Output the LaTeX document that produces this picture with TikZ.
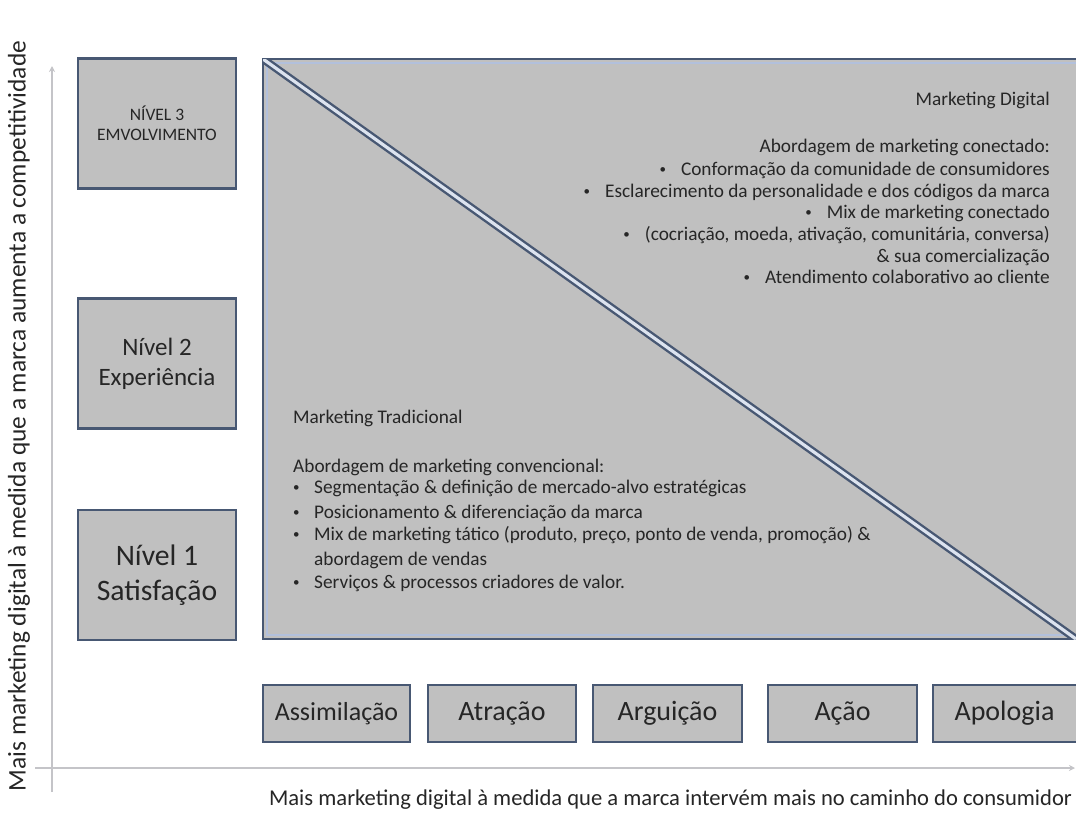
\documentclass[tikz,border=0pt]{standalone}
\usepackage{fontspec}
\setmainfont{Carlito}
\usetikzlibrary{arrows.meta}
\definecolor{boxfill}{RGB}{192,192,192}
\definecolor{boxline}{RGB}{72,88,115}
\definecolor{glowc}{RGB}{178,192,220}
\definecolor{axisc}{RGB}{196,196,200}
\definecolor{txt}{RGB}{38,38,38}
\newcommand{\sbul}{\raisebox{1.2pt}{\fontsize{13}{13}\selectfont •}}
\begin{document}
\begin{tikzpicture}[x=1pt,y=-1pt,
  box/.style={draw=boxline, line width=2.6pt, fill=boxfill, inner sep=0pt, align=center, text=txt},
  lvl/.style={box, minimum width=158pt, minimum height=130pt},
  stage/.style={box, minimum height=57pt, font=\fontsize{28}{34}\selectfont},
  body/.style={inner sep=0pt, text=txt, font=\fontsize{19.3}{23}\selectfont},
  axis/.style={draw=axisc, line width=2pt, -{Stealth[length=6pt,width=6pt]}},
  axlabel/.style={inner sep=0pt, text=txt}
]
\useasboundingbox (0,0) rectangle (1076,823);
\fill[white] (0,0) rectangle (1076,823);

% axes
\coordinate (ybot) at (52,792);
\coordinate (ytop) at (52,66);
\coordinate (xleft) at (35,768);
\coordinate (xright) at (1075,768);
\draw[axis] (ybot) -- (ytop);
\draw[axis] (xleft) -- (xright);

% main panel
\coordinate (pnw) at (263,59);
\coordinate (psw) at (263,639);
\coordinate (pne) at (1076,59);
\coordinate (pse) at (1076,639);
\fill[boxfill] (pnw) rectangle (pse);
\draw[glowc, line width=1.6pt] (1076,63) -- (267,63) -- (267,635) -- (1076,635);
\draw[boxline, line width=2.6pt] (pne) -- (pnw) -- (psw) -- (pse);
\begin{scope}
  \clip (pnw) rectangle (pse);
  \draw[boxline, line width=8pt] (pnw) -- (pse);
  \draw[white!55!glowc, line width=3.2pt] (pnw) -- (pse);
\end{scope}

% level boxes
\node[lvl, font=\fontsize{17.5}{20}\selectfont] (n3) at (157,123.5) {NÍVEL 3\\EMVOLVIMENTO};
\node[lvl, font=\fontsize{25}{30}\selectfont] (n2) at (157,363.5) {Nível 2\\Experiência};
\node[lvl, font=\fontsize{29.7}{35}\selectfont] (n1) at (157,575) {Nível 1\\Satisfação};

% stage boxes
\node[stage, minimum width=147pt, font=\fontsize{26}{30}\selectfont] (s1) at (336.5,713.5) {Assimilação};
\node[stage, minimum width=148pt] (s2) at (502,713.5) {Atração};
\node[stage, minimum width=149pt] (s3) at (667.5,713.5) {Arguição};
\node[stage, minimum width=149pt] (s4) at (842.5,713.5) {Ação};
\node[stage, draw=none, outer sep=0pt, minimum width=143pt] (s5) at (1004.5,713.5) {Apologia};
\draw[boxline, line width=2.6pt] (s5.north east) -- (s5.north west) -- (s5.south west) -- (s5.south east);

% digital text
\node[body, anchor=base east] (d1) at (1050,105) {Marketing Digital};
\node[body, anchor=base east] (d2) at (1050,152) {Abordagem de marketing conectado:};
\node[body, anchor=base east] (d3) at (1050,175) {\sbul\hspace{15pt}Conformação da comunidade de consumidores};
\node[body, anchor=base east] (d4) at (1050,197) {\sbul\hspace{15pt}Esclarecimento da personalidade e dos códigos da marca};
\node[body, anchor=base east] (d5) at (1050,218) {\sbul\hspace{15pt}Mix de marketing conectado};
\node[body, anchor=base east] (d6) at (1050,240) {\sbul\hspace{15pt}(cocriação, moeda, ativação, comunitária, conversa)};
\node[body, anchor=base east] (d7) at (1050,262) {\& sua comercialização};
\node[body, anchor=base east] (d8) at (1050,283) {\sbul\hspace{15pt}Atendimento colaborativo ao cliente};

% traditional text
\node[body, anchor=base west] (t1) at (293,423) {Marketing Tradicional};
\node[body, anchor=base west] (t2) at (293,472) {Abordagem de marketing convencional:};
\node[body, anchor=base west] (t3) at (293,493) {\makebox[21pt][l]{\sbul}Segmentação \& definição de mercado-alvo estratégicas};
\node[body, anchor=base west] (t4) at (293,518) {\makebox[21pt][l]{\sbul}Posicionamento \& diferenciação da marca};
\node[body, anchor=base west] (t5) at (293,540) {\makebox[21pt][l]{\sbul}Mix de marketing tático (produto, preço, ponto de venda, promoção) \&};
\node[body, anchor=base west] (t6) at (314,565) {abordagem de vendas};
\node[body, anchor=base west] (t7) at (293,588) {\makebox[21pt][l]{\sbul}Serviços \& processos criadores de valor.};

% axis labels
\node[axlabel, font=\fontsize{22.6}{26}\selectfont] (xl) at (670.5,800) {Mais marketing digital à medida que a marca intervém mais no caminho do consumidor};
\node[axlabel, rotate=90, font=\fontsize{25.4}{28}\selectfont] (yl) at (19,416) {Mais marketing digital à medida que a marca aumenta a competitividade};
\end{tikzpicture}
\end{document}
